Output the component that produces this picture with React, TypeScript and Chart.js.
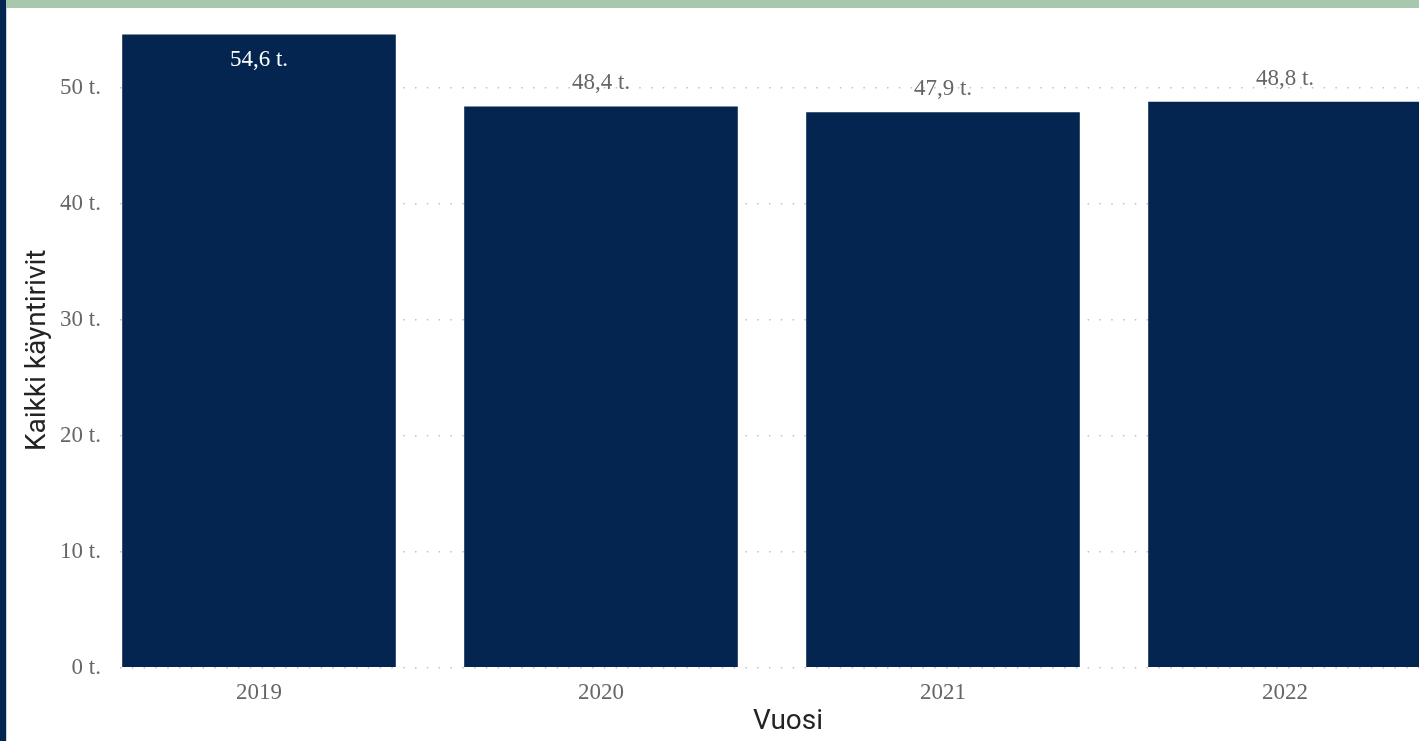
import React, { useEffect, useRef } from "react";
import { Chart, registerables } from "chart.js";

Chart.register(...registerables);

const years = ["2019", "2020", "2021", "2022"];
const visits = [54.6, 48.4, 47.9, 48.8];
const yTicks = [0, 10, 20, 30, 40, 50];

const NAVY = "#03254F";
const GRAY = "#666666";
const SERIF = "'Liberation Serif', 'Times New Roman', serif";
const SANS = "Roboto, 'DejaVu Sans', sans-serif";

const fmt = (v: number) => v.toFixed(1).replace(".", ",") + " t.";

const labelPlugin = {
  id: "barLabels",
  afterDatasetsDraw(chart: any) {
    const ctx = chart.ctx;
    const meta = chart.getDatasetMeta(0);
    const yScale = chart.scales.y;
    ctx.save();
    ctx.font = `23px ${SERIF}`;
    ctx.textAlign = "center";
    ctx.textBaseline = "alphabetic";
    meta.data.forEach((bar: any, i: number) => {
      const v = visits[i];
      const top = bar.y;
      const text = fmt(v);
      if (top - 30 < yScale.top) {
        ctx.fillStyle = "#ffffff";
        ctx.fillText(text, bar.x, top + 31);
      } else {
        ctx.fillStyle = GRAY;
        ctx.fillText(text, bar.x, top - 17);
      }
    });
    ctx.restore();
  },
};

export default function App() {
  const ref = useRef<HTMLCanvasElement | null>(null);

  useEffect(() => {
    if (!ref.current) return;
    const chart = new Chart(ref.current, {
      type: "bar",
      data: {
        datasets: [
          {
            data: visits.map((v, i) => ({ x: i, y: v })),
            backgroundColor: NAVY,
            borderWidth: 0,
            barPercentage: 0.8,
            categoryPercentage: 1,
          },
        ],
      },
      options: {
        animation: false,
        responsive: false,
        maintainAspectRatio: false,
        layout: { padding: { left: 0, right: 0, top: 0, bottom: 2 } },
        plugins: { legend: { display: false }, tooltip: { enabled: false } },
        scales: {
          x: {
            type: "linear",
            offset: false,
            min: -0.4064,
            max: 3.5,
            grid: { display: false },
            border: { display: false },
            afterBuildTicks: (s: any) => {
              s.ticks = years.map((_, i) => ({ value: i }));
            },
            ticks: {
              callback: (v: any) => years[Math.round(v)] ?? "",
              color: GRAY,
              font: { family: SERIF, size: 23 },
              padding: 3,
              maxRotation: 0,
              autoSkip: false,
            },
            title: {
              display: true,
              text: "Vuosi",
              color: "#252423",
              font: { family: SANS, size: 28 },
              padding: { top: -4, bottom: 0 },
            },
          },
          y: {
            min: 0,
            max: 54.75,
            afterBuildTicks: (s: any) => {
              s.ticks = yTicks.map((v) => ({ value: v }));
            },
            afterFit: (s: any) => {
              s.width = 120;
            },
            grid: {
              color: "#c0c0c0",
              lineWidth: 1.5,
              tickLength: 0,
              drawTicks: false,
            },
            border: { display: false, dash: [1.5, 10.3] },
            ticks: {
              callback: (v: any) => `${v} t.`,
              color: GRAY,
              font: { family: SERIF, size: 23 },
              padding: 19,
            },
            title: {
              display: true,
              text: "Kaikki käyntirivit",
              color: "#252423",
              font: { family: SANS, size: 28 },
              padding: { top: 21, bottom: 0 },
            },
          },
        },
      },
      plugins: [labelPlugin],
    });
    return () => chart.destroy();
  }, []);

  return (
    <div
      style={{
        position: "fixed",
        left: 0,
        top: 0,
        width: 1419,
        height: 741,
        overflow: "hidden",
        background: "#ffffff",
      }}
    >
      <canvas
        ref={ref}
        width={1456}
        height={741}
        style={{ position: "absolute", left: 0, top: 0, width: 1456, height: 741 }}
      />
      <div
        style={{
          position: "absolute",
          left: 0,
          top: 0,
          width: 1419,
          height: 8,
          background: "#A8C8AE",
        }}
      />
      <div
        style={{
          position: "absolute",
          left: 0,
          top: 0,
          width: 6,
          height: 741,
          background: "#03254F",
        }}
      />
      <div
        style={{
          position: "absolute",
          left: 6,
          top: 8,
          width: 1,
          height: 733,
          background: "#c9d3df",
        }}
      />
    </div>
  );
}
